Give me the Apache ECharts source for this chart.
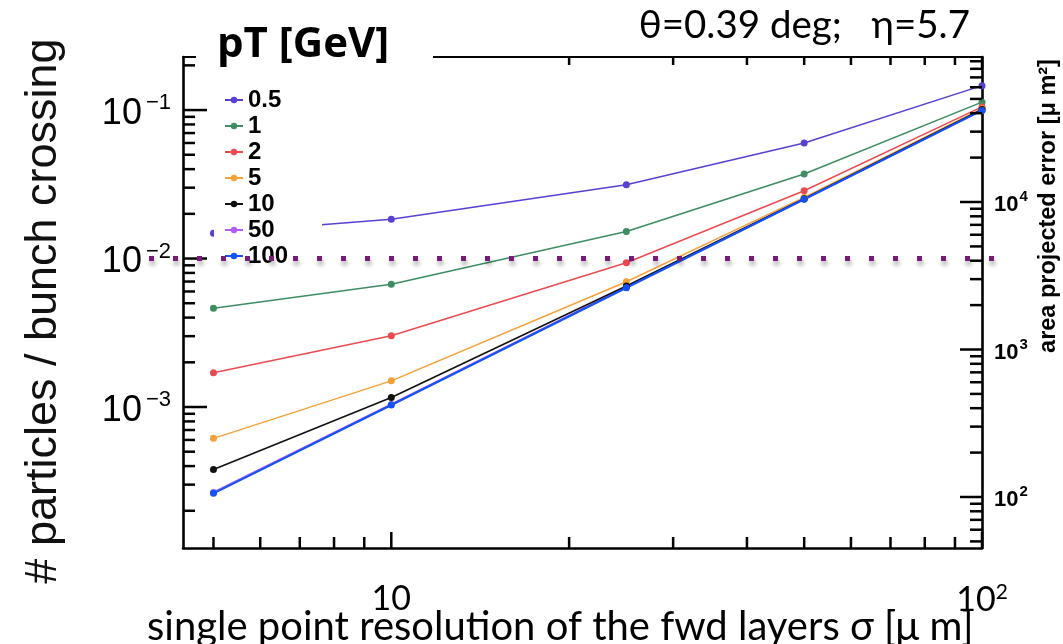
<!DOCTYPE html>
<html>
<head>
<meta charset="utf-8">
<script src="https://cdn.jsdelivr.net/npm/echarts@6/dist/echarts.min.js"></script>
<style>
  html, body { margin: 0; padding: 0; background: #ffffff; }
  #chart { width: 1063px; height: 644px; }
</style>
</head>
<body>
<div id="chart"></div>
<script>
// single point resolution of the forward layers, sigma [um]
const sigma = [5, 10, 25, 50, 100];

// transverse momentum bins [GeV]
const ptLabels = ['0.5', '1', '2', '5', '10', '50', '100'];

// particles per bunch crossing for each pT bin
const rate_pt05 = [0.0148, 0.0184, 0.0314, 0.0600, 0.146];
const rate_pt1 = [0.00462, 0.00670, 0.0152, 0.0371, 0.113];
const rate_pt2 = [0.00170, 0.00302, 0.00937, 0.0286, 0.105];
const rate_pt5 = [0.000615, 0.00150, 0.00698, 0.0258, 0.102];
const rate_pt10 = [0.000380, 0.00116, 0.00653, 0.0253, 0.101];
const rate_pt50 = [0.000266, 0.00104, 0.00641, 0.0252, 0.100];
const rate_pt100 = [0.000262, 0.00103, 0.00635, 0.0251, 0.0995];

// occupancy reference level
const threshold = 0.01;

// axis ranges
const sigmaRange = [4.44, 100];
const rateRange = [1.123e-4, 0.2277];
const areaRange = [45.1, 96200];

// tick values (major = decades)
const sigmaMajor = [10, 100];
const sigmaMinor = [5, 6, 7, 8, 9, 20, 30, 40, 50, 60, 70, 80, 90];
const rateMajor = [0.001, 0.01, 0.1];
const rateMinor = [2e-4, 3e-4, 4e-4, 5e-4, 6e-4, 7e-4, 8e-4, 9e-4,
                   2e-3, 3e-3, 4e-3, 5e-3, 6e-3, 7e-3, 8e-3, 9e-3,
                   0.02, 0.03, 0.04, 0.05, 0.06, 0.07, 0.08, 0.09, 0.2];
const areaMajor = [100, 1000, 10000];
const areaMinor = [50, 60, 70, 80, 90, 200, 300, 400, 500, 600, 700, 800, 900,
                   2000, 3000, 4000, 5000, 6000, 7000, 8000, 9000,
                   20000, 30000, 40000, 50000, 60000, 70000, 80000, 90000];

const seriesRates = [rate_pt05, rate_pt1, rate_pt2, rate_pt5, rate_pt10, rate_pt50, rate_pt100];
const seriesColors = ['#5a3fd1', '#3d8c62', '#ea4b51', '#f5a03a', '#111111', '#b25cf7', '#1452f5'];
const seriesWidths = [1.5, 1.5, 1.5, 1.5, 1.6, 2.2, 2.2];

const HELV = 'Liberation Sans, Arial, Helvetica, sans-serif';
const CALI = 'Lato, Open Sans, sans-serif';

function powLabel(v, plainTen) {
  const e = Math.log10(v);
  const r = Math.round(e);
  if (Math.abs(e - r) > 1e-6) return '';
  if (plainTen && r === 1) return '{b|10}';
  const exp = r < 0 ? '\u2212' + (-r) : String(r);
  return '{b|10}{s|' + exp + '}';
}

const lineSeries = ptLabels.map((name, i) => ({
  name: name,
  type: 'line',
  xAxisIndex: 0,
  yAxisIndex: 0,
  data: sigma.map((s, k) => [s, seriesRates[i][k]]),
  symbol: 'circle',
  symbolSize: 7,
  showSymbol: true,
  clip: false,
  z: 3 + (i === 5 ? 0 : 1),
  lineStyle: { color: seriesColors[i], width: seriesWidths[i] },
  itemStyle: { color: seriesColors[i] },
  emphasis: { disabled: true }
}));

const logAxisBase = {
  type: 'log',
  logBase: 10,
  splitLine: { show: false },
  axisTick: { show: false },
  minorTick: { show: false },
  axisLine: { show: true, lineStyle: { color: '#000', width: 2.6 } }
};

const option = {
  animation: false,
  backgroundColor: '#ffffff',
  grid: { left: 183, right: 81, top: 57, bottom: 96, containLabel: false, outerBoundsMode: 'none' },
  xAxis: [
    Object.assign({}, logAxisBase, {
      position: 'bottom',
      min: sigmaRange[0], max: sigmaRange[1],
      axisLabel: {
        margin: 34,
        showMinLabel: true, showMaxLabel: true,
        formatter: v => powLabel(v, true),
        rich: {
          b: { fontFamily: CALI, fontSize: 34, color: '#000' },
          s: { fontFamily: CALI, fontSize: 21, color: '#000', padding: [0, 0, 16, 0] }
        }
      }
    }),
    Object.assign({}, logAxisBase, {
      position: 'top',
      min: sigmaRange[0], max: sigmaRange[1],
      axisLine: { show: true, lineStyle: { color: '#000', width: 2 } },
      axisLabel: { show: false }
    })
  ],
  yAxis: [
    Object.assign({}, logAxisBase, {
      position: 'left',
      min: rateRange[0], max: rateRange[1],
      axisLabel: {
        margin: 12,
        formatter: v => powLabel(v, false),
        rich: {
          b: { fontFamily: HELV, fontSize: 36, color: '#000', padding: [8, 0, 0, 0] },
          s: { fontFamily: HELV, fontSize: 22, color: '#000', padding: [0, 0, 14, 4] }
        }
      }
    }),
    Object.assign({}, logAxisBase, {
      position: 'right',
      min: areaRange[0], max: areaRange[1],
      axisLabel: {
        margin: 12,
        formatter: v => powLabel(v, false),
        rich: {
          b: { fontFamily: HELV, fontSize: 22, fontWeight: 'bold', color: '#000', padding: [6, 0, 0, 0] },
          s: { fontFamily: HELV, fontSize: 15, fontWeight: 'bold', color: '#000', padding: [0, 0, 10, 1] }
        }
      }
    })
  ],
  legend: {
    data: ptLabels,
    orient: 'vertical',
    left: 219,
    top: 83,
    itemWidth: 18,
    itemHeight: 8,
    itemGap: 2,
    selectedMode: false,
    z: 20,
    textStyle: { fontFamily: HELV, fontSize: 24, fontWeight: 'bold', color: '#000', lineHeight: 24 }
  },
  series: lineSeries
};

const chart = echarts.init(document.getElementById('chart'), null, { renderer: 'canvas' });
chart.setOption(option);

// frame edges in pixels, from the axis scales
const px = v => chart.convertToPixel({ xAxisIndex: 0 }, v);
const pyRate = v => chart.convertToPixel({ yAxisIndex: 0 }, v);
const pyArea = v => chart.convertToPixel({ yAxisIndex: 1 }, v);
const xLeft = px(sigmaRange[0]);
const xRight = px(sigmaRange[1]);
const yBottom = pyRate(rateRange[0]);
const yTop = pyRate(rateRange[1]);

// heading panel: the upper frame edge is hidden behind it
const headPanel = { x: 196, y: 12, width: 237, height: 63 };
const legendPanel = { x: 214, y: 75, width: 108, height: 190 };

// tick marks, on a layer above the plot
function tick(x1, y1, x2, y2) {
  return { type: 'line', zlevel: 1, z: 100, silent: true,
           shape: { x1: x1, y1: y1, x2: x2, y2: y2 },
           style: { stroke: '#000', lineWidth: 2.5, lineCap: 'butt' } };
}
const elements = [];
function xTicks(vals, lenBottom, lenTop) {
  vals.forEach(v => {
    const x = px(v);
    elements.push(tick(x, yBottom, x, yBottom - lenBottom));
    if (x > headPanel.x + headPanel.width) elements.push(tick(x, yTop, x, yTop + lenTop));
  });
}
xTicks(sigmaMajor, 16, 12);
xTicks(sigmaMinor, 11, 8);
rateMajor.forEach(v => { const y = pyRate(v); elements.push(tick(xLeft, y, xLeft + 24, y)); });
rateMinor.forEach(v => { const y = pyRate(v); elements.push(tick(xLeft, y, xLeft + 12, y)); });
areaMajor.forEach(v => { const y = pyArea(v); elements.push(tick(xRight, y, xRight - 22, y)); });
areaMinor.forEach(v => { const y = pyArea(v); elements.push(tick(xRight, y, xRight - 12, y)); });

elements.push(
  // white panels behind the legend and its heading
  { type: 'rect', z: 10, silent: true, shape: headPanel, style: { fill: '#fff' } },
  { type: 'rect', z: 10, silent: true, shape: legendPanel, style: { fill: '#fff' } },
  // titles and annotations
  { type: 'text', z: 21, silent: true, x: 217, y: 45,
    style: { text: 'pT [GeV]', fontFamily: 'Open Sans, Lato, sans-serif', fontWeight: 'bold', fontSize: 42, fill: '#000', align: 'left', verticalAlign: 'middle' } },
  { type: 'text', z: 21, silent: true, x: 970, y: 26,
    style: { text: '\u03b8=0.39 deg;   \u03b7=5.7', fontFamily: CALI, fontSize: 38.5, fill: '#000', align: 'right', verticalAlign: 'middle' } },
  { type: 'text', z: 21, silent: true, x: 44, y: 311, rotation: Math.PI / 2,
    style: { text: '# particles / bunch crossing', fontFamily: HELV, fontSize: 45, fill: '#111', align: 'center', verticalAlign: 'middle' } },
  { type: 'text', z: 21, silent: true, x: 1049, y: 206, rotation: Math.PI / 2,
    style: { text: 'area projected error [\u03bc m\u00b2]', fontFamily: HELV, fontSize: 23.5, fontWeight: 'bold', fill: '#000', align: 'center', verticalAlign: 'middle' } },
  { type: 'text', z: 21, silent: true, x: 147, y: 627,
    style: { text: 'single point resolution of the fwd layers \u03c3 [\u03bc m]', fontFamily: CALI, fontSize: 40, fill: '#000', align: 'left', verticalAlign: 'middle' } },
  // dotted reference level at the threshold rate, running past both frame edges
  { type: 'line', zlevel: 1, z: 110, silent: true,
    shape: { x1: xLeft - 34, y1: pyRate(threshold), x2: xRight + 12, y2: pyRate(threshold) },
    style: { stroke: '#781c7c', lineWidth: 5, lineDash: [5, 19], lineCap: 'butt',
             shadowColor: 'rgba(0,0,0,0.35)', shadowBlur: 4, shadowOffsetX: 1, shadowOffsetY: 4 } }
);

chart.setOption({ graphic: { elements: elements } });
</script>
</body>
</html>
